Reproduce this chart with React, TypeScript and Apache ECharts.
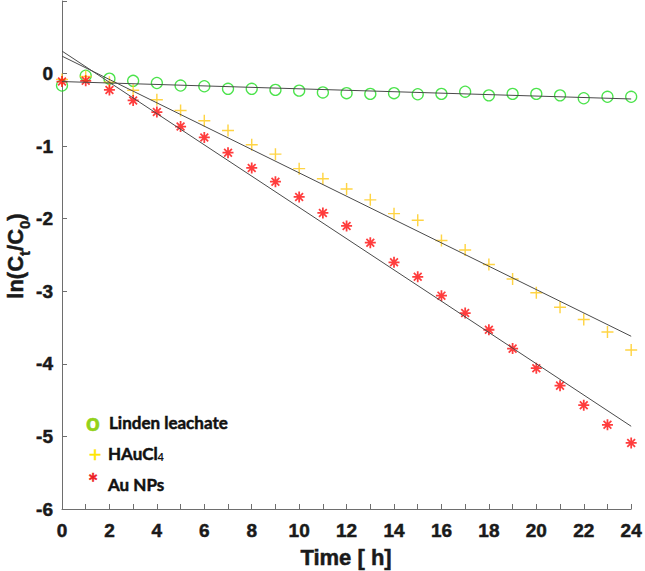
import React, { useEffect, useRef } from "react";
import * as echarts from "echarts";

const hours = [0, 1, 2, 3, 4, 5, 6, 7, 8, 9, 10, 11, 12, 13, 14, 15, 16, 17, 18, 19, 20, 21, 22, 23, 24];
const lindenLeachate = [-0.165, -0.03, -0.07, -0.10, -0.13, -0.165, -0.175, -0.21, -0.21, -0.225, -0.235, -0.26, -0.27, -0.28, -0.27, -0.285, -0.28, -0.25, -0.30, -0.28, -0.28, -0.30, -0.34, -0.32, -0.32];
const hauCl4 = [-0.08, -0.04, -0.12, -0.23, -0.36, -0.51, -0.65, -0.785, -0.98, -1.11, -1.31, -1.45, -1.59, -1.74, -1.93, -2.02, -2.30, -2.43, -2.63, -2.83, -3.02, -3.22, -3.39, -3.56, -3.81];
const auNPs = [-0.11, -0.10, -0.225, -0.37, -0.53, -0.73, -0.88, -1.09, -1.30, -1.49, -1.70, -1.92, -2.10, -2.33, -2.60, -2.80, -3.06, -3.30, -3.53, -3.79, -4.06, -4.30, -4.57, -4.84, -5.09];

// fitted straight lines, endpoints at t = 0 and t = 24
const fitHours = [0, 24];
const lindenFit = [-0.11, -0.35];
const hauCl4Fit = [0.24, -3.62];
const auNPsFit = [0.31, -4.86];

const xTicks = [0, 2, 4, 6, 8, 10, 12, 14, 16, 18, 20, 22, 24];
const yTicks = [0, -1, -2, -3, -4, -5, -6];

const PLUS =
  "path://M-1.2,-10L1.2,-10L1.2,-1.2L10,-1.2L10,1.2L1.2,1.2L1.2,10L-1.2,10L-1.2,1.2L-10,1.2L-10,-1.2L-1.2,-1.2Z";
const STAR =
  "path://M-1.6,-10L1.6,-10L1.6,10L-1.6,10Z M-10,-1.6L10,-1.6L10,1.6L-10,1.6Z " +
  "M-5.94,-8.20L8.20,5.94L5.94,8.20L-8.20,-5.94Z M8.20,-5.94L-5.94,8.20L-8.20,5.94L5.94,-8.20Z";

const pair = (xs: number[], ys: number[]) => xs.map((x, i) => [x, ys[i]]);

export default function App() {
  const ref = useRef<HTMLDivElement>(null);
  useEffect(() => {
    if (!ref.current) return;
    const chart = echarts.init(ref.current, null, { renderer: "svg" });
    const sans = "'Liberation Sans', Arial, sans-serif";
    const axisFont = {
      fontFamily: sans,
      fontWeight: "bold" as const,
      fontSize: 19,
      color: "#1a1a1a",
      textBorderColor: "#1a1a1a",
      textBorderWidth: 0.5,
    };
    const legendFont = "Lato, 'Open Sans', sans-serif";
    const heavy = { stroke: "#111", lineWidth: 0.5 };
    chart.setOption({
      animation: false,
      backgroundColor: "#ffffff",
      grid: { left: 62, right: 12, top: 1, bottom: 62, containLabel: false },
      xAxis: {
        type: "value",
        min: 0,
        max: 24,
        interval: 1,
        axisLine: { show: true, onZero: false, lineStyle: { color: "#6e6e6e", width: 1 } },
        axisTick: { show: true, inside: true, length: 5, lineStyle: { color: "#6e6e6e" } },
        splitLine: { show: false },
        axisLabel: {
          ...axisFont,
          margin: 12,
          formatter: (v: number) => (xTicks.includes(v) ? String(v) : ""),
        },
      },
      yAxis: {
        type: "value",
        min: -6,
        max: 1,
        interval: 1,
        axisLine: { show: true, onZero: false, lineStyle: { color: "#6e6e6e", width: 1 } },
        axisTick: { show: true, inside: true, length: 5, lineStyle: { color: "#6e6e6e" } },
        splitLine: { show: false },
        axisLabel: {
          ...axisFont,
          margin: 9,
          formatter: (v: number) => (yTicks.includes(v) ? String(v) : ""),
        },
      },
      series: [
        {
          name: "Linden leachate",
          type: "scatter",
          silent: true,
          data: pair(hours, lindenLeachate),
          symbol: "circle",
          symbolSize: 11,
          itemStyle: { color: "rgba(0,0,0,0)", borderColor: "#1edc1e", borderWidth: 1.3 },
        },
        {
          name: "HAuCl4",
          type: "scatter",
          silent: true,
          data: pair(hours, hauCl4),
          symbol: PLUS,
          symbolSize: 12,
          itemStyle: { color: "#ffc915" },
        },
        {
          name: "Au NPs",
          type: "scatter",
          silent: true,
          data: pair(hours, auNPs),
          symbol: STAR,
          symbolSize: 11,
          itemStyle: { color: "#ff0d0d" },
        },
        {
          type: "line",
          silent: true,
          data: pair(fitHours, lindenFit),
          symbol: "none",
          lineStyle: { color: "#4a4a4a", width: 1 },
        },
        {
          type: "line",
          silent: true,
          data: pair(fitHours, hauCl4Fit),
          symbol: "none",
          lineStyle: { color: "#4a4a4a", width: 1 },
        },
        {
          type: "line",
          silent: true,
          data: pair(fitHours, auNPsFit),
          symbol: "none",
          lineStyle: { color: "#4a4a4a", width: 1 },
        },
      ],
      graphic: [
        {
          type: "text",
          x: 15,
          y: 256,
          rotation: Math.PI / 2,
          style: {
            text: "{m|ln(C}{s|t}{m|/C}{s|0}{m|)}",
            align: "center",
            verticalAlign: "middle",
            fill: "#1a1a1a",
            rich: {
              m: { fontFamily: sans, fontWeight: "bold", fontSize: 22, fill: "#1a1a1a", stroke: "#1a1a1a", lineWidth: 0.5 },
              s: { fontFamily: sans, fontWeight: "bold", fontSize: 15, fill: "#1a1a1a", stroke: "#1a1a1a", lineWidth: 0.4, padding: [18, 0, 0, 0] },
            },
          },
        },
        {
          type: "text",
          x: 346,
          y: 557,
          style: {
            text: "Time [ h]",
            align: "center",
            verticalAlign: "middle",
            fontFamily: sans,
            fontWeight: "bold",
            fontSize: 22,
            fill: "#1a1a1a",
            stroke: "#1a1a1a",
            lineWidth: 0.5,
          },
        },
        {
          type: "text",
          x: 93,
          y: 421,
          style: { text: "o", align: "center", verticalAlign: "middle", fontFamily: legendFont, fontWeight: "bold", fontSize: 24, fill: "#93d21a", stroke: "#93d21a", lineWidth: 0.6 },
        },
        {
          type: "text",
          x: 95,
          y: 453,
          style: { text: "+", align: "center", verticalAlign: "middle", fontFamily: legendFont, fontWeight: "normal", fontSize: 22, fill: "#ffe600", stroke: "#ffe600", lineWidth: 0.4 },
        },
        {
          type: "text",
          x: 93,
          y: 482,
          style: { text: "*", align: "center", verticalAlign: "middle", fontFamily: legendFont, fontWeight: "bold", fontSize: 24, fill: "#ee1c25", stroke: "#ee1c25", lineWidth: 0.5 },
        },
        {
          type: "text",
          x: 109,
          y: 422,
          style: { text: "Linden leachate", align: "left", verticalAlign: "middle", fontFamily: legendFont, fontWeight: "bold", fontSize: 17, fill: "#111", ...heavy },
        },
        {
          type: "text",
          x: 108,
          y: 453,
          style: {
            text: "{m|HAuCl}{s|4}",
            align: "left",
            verticalAlign: "middle",
            rich: {
              m: { fontFamily: legendFont, fontWeight: "bold", fontSize: 17, fill: "#111", ...heavy },
              s: { fontFamily: legendFont, fontWeight: "bold", fontSize: 11, fill: "#111", padding: [6, 0, 0, 0] },
            },
          },
        },
        {
          type: "text",
          x: 108,
          y: 484,
          style: { text: "Au NPs", align: "left", verticalAlign: "middle", fontFamily: legendFont, fontWeight: "bold", fontSize: 17, fill: "#111", ...heavy },
        },
      ],
    });
    return () => chart.dispose();
  }, []);
  return (
    <div
      ref={ref}
      style={{ position: "fixed", left: 0, top: 0, width: 645, height: 571, background: "#fff" }}
    />
  );
}
